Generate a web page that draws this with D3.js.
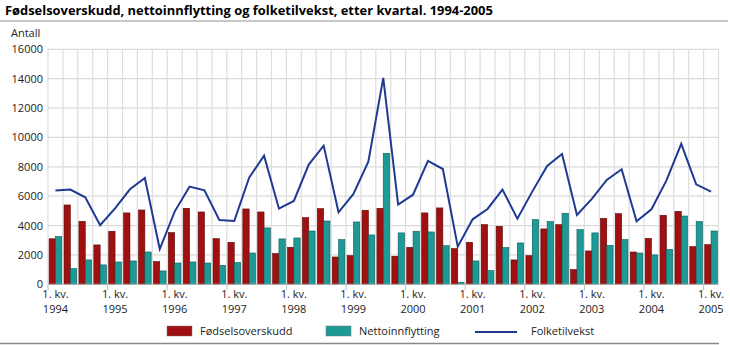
<!DOCTYPE html>
<html><head><meta charset="utf-8">
<script src="https://cdn.jsdelivr.net/npm/d3@7"></script>
<style>body{margin:0;background:#fff;} svg{display:block;font-family:"Open Sans",sans-serif;}</style>
</head><body>
<script>
const quarters = d3.range(45).map(i => ({year: 1994 + Math.floor(i/4), q: (i%4)+1}));
const fodselsoverskudd = [3100,5400,4290,2680, 3610,4860,5060,1545, 3520,5175,4925,3110, 2860,5130,4925,2090, 2520,4540,5150,1860, 1950,5040,5175,1910, 2520,4860,5200,2430, 2860,4060,3950,1660, 1950,3770,4060,1000, 2270,4490,4810,2200, 3130,4700,4970,2565, 2700];
const nettoinnflytting = [3250,1070,1660,1320, 1520,1590,2200,910, 1450,1520,1450,1290, 1475,2130,3840,3090, 3155,3630,4310,3040, 4245,3360,8920,3500, 3610,3565,2630,140, 1590,930,2500,2815, 4400,4270,4835,3720, 3500,2655,3040,2130, 2000,2380,4650,4270, 3630];
const folketilvekst = [6380,6450,5925,4020, 5175,6470,7240,2400, 4950,6650,6400,4380, 4310,7260,8760,5150, 5675,8150,9440,4900, 6150,8350,14050,5425, 6100,8400,7850,2565, 4425,5130,6450,4470, 6310,8060,8875,4720, 5810,7105,7830,4290, 5110,7060,9560,6810, 6310];
const yTicks = [0,2000,4000,6000,8000,10000,12000,14000,16000];
const seriesNames = ["Fødselsoverskudd","Nettoinnflytting","Folketilvekst"];
const colors = {red:"#a01010", redStroke:"#5a0808", teal:"#1d9a96", tealStroke:"#0c5856", line:"#1f3a93"};

const W=730,H=345;
const svg = d3.select("body").append("svg").attr("width",W).attr("height",H);
const x = d3.scaleBand().domain(d3.range(45)).range([48,718.5]).padding(0);
const x1 = d3.scaleBand().domain([0,1]).range([0,x.bandwidth()]).paddingOuter(0.18).paddingInner(0);
const y = d3.scaleLinear().domain([0,16000]).range([284.3,49.3]);

// title
svg.append("text").attr("x",5).attr("y",15).attr("font-weight","bold").attr("font-size",12.9).attr("fill","#000")
  .text("Fødselsoverskudd, nettoinnflytting og folketilvekst, etter kvartal. 1994-2005");
svg.append("line").attr("x1",0).attr("x2",728).attr("y1",21).attr("y2",21).attr("stroke","#c8c8c8").attr("stroke-width",2);
svg.append("text").attr("x",11).attr("y",37).attr("font-size",11).attr("fill","#222").text("Antall");

// gridlines
const g = svg.append("g");
g.selectAll("line.h").data(yTicks).join("line").attr("x1",48).attr("x2",718.5)
  .attr("y1",d=>y(d)).attr("y2",d=>y(d)).attr("stroke","#dadada").attr("stroke-width",1.2);
g.selectAll("line.v").data(d3.range(46)).join("line")
  .attr("x1",i=>x(0)+i*x.step()).attr("x2",i=>x(0)+i*x.step()).attr("y1",y(16000)).attr("y2",y(0))
  .attr("stroke","#dddddd").attr("stroke-width",1.2);

// y axis labels
svg.selectAll("text.yl").data(yTicks).join("text").attr("x",43).attr("y",d=>y(d)+4).attr("text-anchor","end")
  .attr("font-size",11).attr("fill","#222").text(d=>d);

// bars
svg.append("g").selectAll("rect").data(fodselsoverskudd).join("rect")
  .attr("x",(d,i)=>x(i)+x1(0)).attr("width",x1.bandwidth()).attr("y",d=>y(d)).attr("height",d=>y(0)-y(d))
  .attr("fill",colors.red).attr("stroke",colors.redStroke).attr("stroke-width",0.6);
svg.append("g").selectAll("rect").data(nettoinnflytting).join("rect")
  .attr("x",(d,i)=>x(i)+x1(1)).attr("width",x1.bandwidth()).attr("y",d=>y(d)).attr("height",d=>y(0)-y(d))
  .attr("fill",colors.teal).attr("stroke",colors.tealStroke).attr("stroke-width",0.6);

// line
const line = d3.line().x((d,i)=>x(i)+x.bandwidth()/2).y(d=>y(d));
svg.append("path").datum(folketilvekst).attr("d",line).attr("fill","none").attr("stroke",colors.line).attr("stroke-width",2);

// x axis baseline and ticks
svg.append("line").attr("x1",48).attr("x2",718.5).attr("y1",y(0)).attr("y2",y(0)).attr("stroke","#bbb");
const firstQ = d3.range(45).filter(i=>quarters[i].q===1);
svg.selectAll("line.t").data(firstQ).join("line").attr("x1",i=>x(i)).attr("x2",i=>x(i)).attr("y1",y(0)).attr("y2",y(0)+6).attr("stroke","#bbb");
const xl = svg.selectAll("text.xl").data(firstQ).join("text").attr("text-anchor","middle").attr("font-size",11).attr("fill","#222");
xl.append("tspan").attr("x",i=>x(i)+x.bandwidth()/2).attr("y",298).text("1. kv.");
xl.append("tspan").attr("x",i=>x(i)+x.bandwidth()/2).attr("y",313).text(i=>quarters[i].year);

// legend
const lg = svg.append("g");
lg.append("rect").attr("x",167).attr("y",326).attr("width",25).attr("height",10).attr("fill",colors.red).attr("stroke","#777").attr("stroke-width",0.5);
lg.append("text").attr("x",200).attr("y",335).attr("font-size",11).attr("fill","#222").text(seriesNames[0]);
lg.append("rect").attr("x",326).attr("y",326).attr("width",25).attr("height",10).attr("fill",colors.teal).attr("stroke","#777").attr("stroke-width",0.5);
lg.append("text").attr("x",359).attr("y",335).attr("font-size",11).attr("fill","#222").text(seriesNames[1]);
lg.append("line").attr("x1",475).attr("x2",517).attr("y1",332).attr("y2",332).attr("stroke",colors.line).attr("stroke-width",2);
lg.append("text").attr("x",531).attr("y",335).attr("font-size",11).attr("fill","#222").text(seriesNames[2]);

svg.append("line").attr("x1",0).attr("x2",719).attr("y1",343.5).attr("y2",343.5).attr("stroke","#888").attr("stroke-width",1.5);
</script>
</body></html>
